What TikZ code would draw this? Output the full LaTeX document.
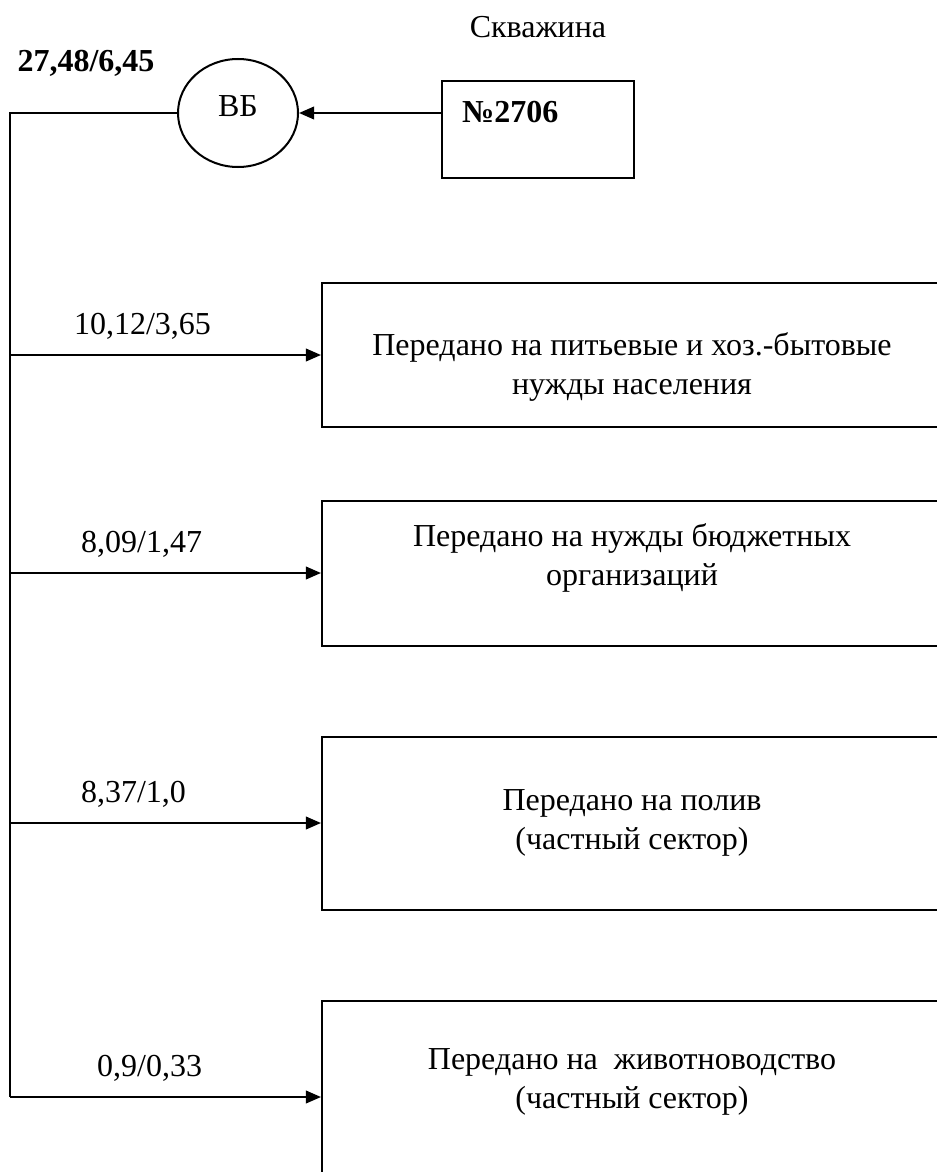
\documentclass[tikz,border=0pt]{standalone}
\usepackage{fontspec}
\setmainfont{Liberation Serif}
\usetikzlibrary{arrows.meta}
\usetikzlibrary{positioning}
\usetikzlibrary{shapes.geometric}

\tikzset{
  flowbox/.style={draw, rectangle, minimum width=248pt, inner sep=0pt},
  boxtext/.style={align=center},
}

\begin{document}
\begin{tikzpicture}[x=0.4pt, y=-0.4pt, line width=0.8pt,
    >={Triangle[length=6pt,width=5pt]}, font=\fontsize{12.8}{15.5}\selectfont]
    \useasboundingbox (0,0) rectangle (936,1172);

    \node (well) [draw, minimum width=76.8pt, minimum height=38.8pt,
      label={[anchor=west, xshift=4.7pt, yshift=-13pt, font=\fontsize{12.8}{15.5}\selectfont\bfseries]north west:№2706}] at (538,129.5) {};
    \node (wellname) [above = 13pt of well] {Скважина};
    \node (vb) [draw, ellipse, minimum width=48pt, minimum height=43.2pt, text depth=5.5pt] at (238,113) {ВБ};
    \node (total) at (86,63) {\textbf{27,48/6,45}};

    \node (pit) [flowbox, minimum height=57.6pt,
      label={[boxtext, yshift=-4.8pt]center:Передано на питьевые и хоз.-бытовые\\нужды населения}] at (632,355) {};
    \node (budg) [flowbox, minimum height=58pt,
      label={[boxtext, yshift=6pt]center:Передано на нужды бюджетных\\организаций}] at (632,573) {};
    \node (poliv) [flowbox, minimum height=69.2pt,
      label={[boxtext]center:Передано на полив\\(частный сектор)}] at (632,823) {};
    \node (zhiv) [flowbox, minimum height=76.8pt,
      label={[boxtext, yshift=6pt]center:Передано на\ \ животноводство\\(частный сектор)}] at (632,1097) {};

    \coordinate (bend) at (10,1097);

    \draw [->] (vb.east -| well.west) -- (vb.east);
    \draw (vb.west) -| (bend);

    \draw [->] (pit.west -| bend) -- node [above=2.5pt, pos=0.426] {10,12/3,65} (pit.west);
    \draw [->] (budg.west -| bend) -- node [above=2.5pt, pos=0.423] {8,09/1,47} (budg.west);
    \draw [->] (poliv.west -| bend) -- node [above=2.5pt, pos=0.397] {8,37/1,0} (poliv.west);
    \draw [->] (bend) -- node [above=2.5pt, pos=0.449] {0,9/0,33} (zhiv.west);
\end{tikzpicture}
\end{document}
